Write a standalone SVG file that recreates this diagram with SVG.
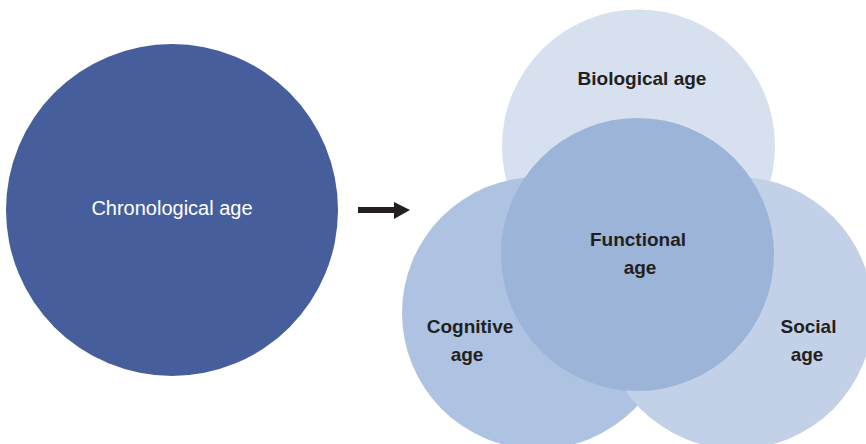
<svg xmlns="http://www.w3.org/2000/svg" width="866" height="444" viewBox="0 0 866 444">
<style>
.lbl{font-family:"Liberation Sans",Arial,sans-serif;font-size:19px;font-weight:bold;fill:#231f20;text-anchor:middle}
.wlbl{font-family:"Liberation Sans",Arial,sans-serif;font-size:20px;fill:#ffffff;text-anchor:middle}
</style>
<rect width="866" height="444" fill="#ffffff"/>
<g id="chronological">
<circle cx="172" cy="210" r="166" fill="#465f9c"/>
<text class="wlbl" x="172" y="215">Chronological age</text>
</g>
<g id="connectors">
<rect x="358" y="207" width="38" height="6" fill="#231f20"/>
<polygon points="394,202 410,210 394,219" fill="#231f20"/>
</g>
<g id="biological">
<circle cx="638.5" cy="146" r="136.5" fill="#d7e0ef"/>
<text class="lbl" x="642" y="85">Biological age</text>
</g>
<g id="cognitive">
<circle cx="538" cy="313" r="136" fill="#aec2e1"/>
<text class="lbl" x="470" y="333">Cognitive</text>
<text class="lbl" x="467" y="361">age</text>
</g>
<g id="social">
<circle cx="737" cy="313" r="136" fill="#c3d1e8"/>
<text class="lbl" x="808.5" y="333">Social</text>
<text class="lbl" x="807" y="361">age</text>
</g>
<g id="functional">
<circle cx="637.5" cy="254.5" r="136.5" fill="#9bb4d8"/>
<text class="lbl" x="638" y="246">Functional</text>
<text class="lbl" x="640" y="274">age</text>
</g>
</svg>
